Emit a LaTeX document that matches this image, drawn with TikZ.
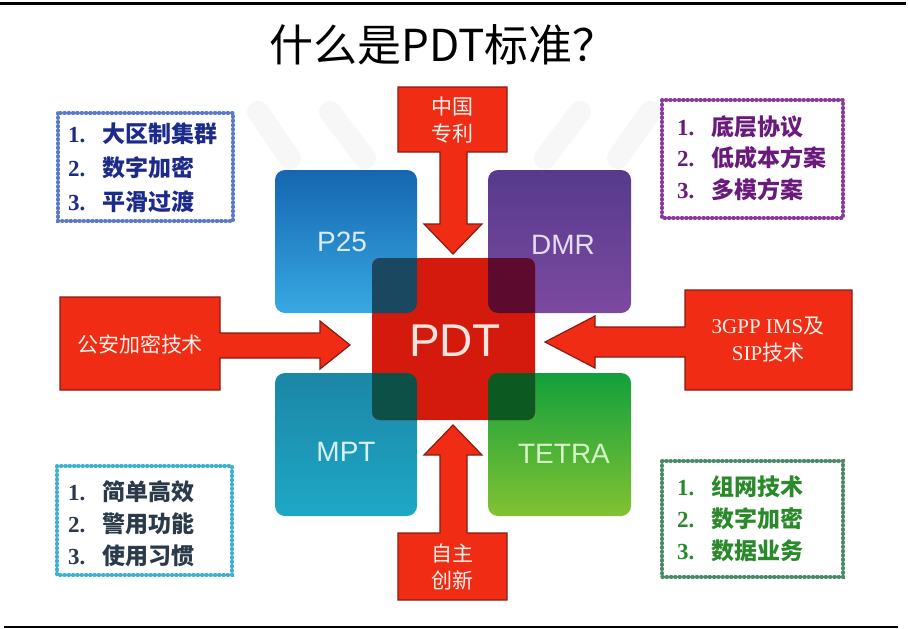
\documentclass[tikz,border=0pt]{standalone}
\usepackage{fontspec}
\setmainfont{Liberation Serif}
\setsansfont{Liberation Sans}
\newfontfamily\cjk{Noto Sans CJK SC}
\definecolor{arrowred}{HTML}{F02C14}
\definecolor{arrowline}{HTML}{8A1C12}
\definecolor{arrowtxt}{HTML}{FFF0EA}
\definecolor{pdtred}{HTML}{D41A0C}
\definecolor{ulborder}{HTML}{5A7AC8}
\definecolor{ultext}{HTML}{1C2A8A}
\definecolor{urborder}{HTML}{8A3A9A}
\definecolor{urtext}{HTML}{6A1A7A}
\definecolor{llborder}{HTML}{40B0D0}
\definecolor{lltext}{HTML}{2A3A4A}
\definecolor{lrborder}{HTML}{4A8A6A}
\definecolor{lrtext}{HTML}{2A8A2A}
\definecolor{wm}{HTML}{F7F7F7}
\definecolor{ptop}{HTML}{1566B0}
\definecolor{pbot}{HTML}{38A8E2}
\definecolor{dtop}{HTML}{563A8C}
\definecolor{dbot}{HTML}{7C4AA0}
\definecolor{mtop}{HTML}{1C86A6}
\definecolor{mbot}{HTML}{1EA8C6}
\definecolor{ttop}{HTML}{12A03C}
\definecolor{tbot}{HTML}{82C232}
\definecolor{ovtl}{HTML}{1A4860}
\definecolor{ovtr}{HTML}{5C0A2E}
\definecolor{ovbl}{HTML}{0C5048}
\definecolor{ovbr}{HTML}{0C5A22}
\definecolor{lblp}{HTML}{D8ECF8}
\definecolor{lbld}{HTML}{E4DCF0}
\definecolor{lblm}{HTML}{D6F0F6}
\definecolor{lblt}{HTML}{D6F4C8}
\definecolor{lblpdt}{HTML}{F8E4DE}
\tikzset{
  beadbox/.style={line width=3.6pt, line cap=round, dash pattern=on 0.9pt off 3.4pt, fill=white, draw=#1},
  blockarrow/.style={fill=arrowred, draw=arrowline, line width=1.2pt, line join=miter},
  arrowlabel/.style={text=arrowtxt, align=center, font=\cjk\fontsize{21}{27}\selectfont, inner sep=0pt},
  itemtext/.style={anchor=west, inner sep=0pt, font=\fontsize{23}{23}\selectfont},
  sq/.style={rounded corners=10pt},
  sqlabel/.style={font=\sffamily\fontsize{28}{28}\selectfont, inner sep=0pt}
}
\newcommand{\itm}[2]{{\rmfamily\bfseries #1.}\hspace{17pt}{\cjk\bfseries #2}}
\begin{document}
\begin{tikzpicture}[x=1pt,y=-1pt]
\useasboundingbox (0,0) rectangle (908,629);
\fill[white] (0,0) rectangle (908,629);
% rules
\draw[line width=3pt] (0,3) -- (906,3);
\draw[line width=2.5pt] (4,627) -- (898,627);
% faint watermark
\begin{scope}[wm, line width=22pt, line cap=round]
\draw (258,112) -- (290,158);
\draw (330,112) -- (365,158);
\draw (580,112) -- (545,158);
\draw (650,112) -- (618,158);
\end{scope}
% title
\node (title) at (443,45) {\cjk\fontsize{44}{44}\selectfont 什么是PDT标准？};
% colored squares
\shade[sq, top color=ptop, bottom color=pbot] (275,170) rectangle (417,313);
\shade[sq, top color=dtop, bottom color=dbot] (488,170) rectangle (631,313);
\shade[sq, top color=mtop, bottom color=mbot] (275,373) rectangle (417,516);
\shade[sq, top color=ttop, bottom color=tbot] (488,373) rectangle (631,516);
% PDT centre
\fill[pdtred, rounded corners=8pt] (372,258) rectangle (535,420);
\begin{scope}
\clip[rounded corners=8pt] (372,258) rectangle (535,420);
\fill[sq, ovtl] (275,170) rectangle (417,313);
\fill[sq, ovtr] (488,170) rectangle (631,313);
\fill[sq, ovbl] (275,373) rectangle (417,516);
\fill[sq, ovbr] (488,373) rectangle (631,516);
\end{scope}
\node[sqlabel, text=lblp] (p25) at (342,242) {P25};
\node[sqlabel, text=lbld] (dmr) at (563,245) {DMR};
\node[sqlabel, text=lblm] (mpt) at (346,452) {MPT};
\node[sqlabel, text=lblt] (tetra) at (564,454) {TETRA};
\node[font=\sffamily\fontsize{46}{46}\selectfont, inner sep=0pt, text=lblpdt] (pdt) at (455,341) {PDT};
% block arrows
\filldraw[blockarrow] (398,87) -- (507,87) -- (507,152) -- (467,152) -- (467,224) -- (482,224) -- (453,254) -- (424,224) -- (440,224) -- (440,152) -- (398,152) -- cycle;
\filldraw[blockarrow] (398,600) -- (507,600) -- (507,533) -- (467,533) -- (467,455) -- (482,455) -- (453,425) -- (424,455) -- (440,455) -- (440,533) -- (398,533) -- cycle;
\filldraw[blockarrow] (60,297) -- (220,297) -- (220,333) -- (320,333) -- (320,321) -- (350,345) -- (320,369) -- (320,358) -- (220,358) -- (220,390) -- (60,390) -- cycle;
\filldraw[blockarrow] (852,290) -- (852,390) -- (685,390) -- (685,357) -- (595,357) -- (595,368) -- (545,342) -- (595,316) -- (595,327) -- (685,327) -- (685,290) -- cycle;
\node[arrowlabel] (zg) at (452,120) {中国\\专利};
\node[arrowlabel] (zz) at (452,567) {自主\\创新};
\node[arrowlabel, font=\cjk\fontsize{21}{26}\selectfont] (ga) at (140,344) {公安加密技术};
\node[arrowlabel] (gpp) at (768,340) {{\rmfamily 3GPP IMS}及\\{\rmfamily SIP}技术};
% text boxes
\draw[beadbox=ulborder] (58,113) rectangle (233,221);
\node[itemtext, text=ultext] (ul1) at (68,134) {\itm{1}{大区制集群}};
\node[itemtext, text=ultext] (ul2) at (68,168) {\itm{2}{数字加密}};
\node[itemtext, text=ultext] (ul3) at (68,202) {\itm{3}{平滑过渡}};
\draw[beadbox=urborder] (662,100) rectangle (843,218);
\node[itemtext, text=urtext] (ur1) at (677,127) {\itm{1}{底层协议}};
\node[itemtext, text=urtext] (ur2) at (677,158) {\itm{2}{低成本方案}};
\node[itemtext, text=urtext] (ur3) at (677,190) {\itm{3}{多模方案}};
\draw[beadbox=llborder] (57,466) rectangle (232,575);
\node[itemtext, text=lltext] (ll1) at (68,492) {\itm{1}{简单高效}};
\node[itemtext, text=lltext] (ll2) at (68,524) {\itm{2}{警用功能}};
\node[itemtext, text=lltext] (ll3) at (68,556) {\itm{3}{使用习惯}};
\draw[beadbox=lrborder] (662,461) rectangle (843,577);
\node[itemtext, text=lrtext] (lr1) at (677,487) {\itm{1}{组网技术}};
\node[itemtext, text=lrtext] (lr2) at (677,519) {\itm{2}{数字加密}};
\node[itemtext, text=lrtext] (lr3) at (677,551) {\itm{3}{数据业务}};
\end{tikzpicture}
\end{document}
